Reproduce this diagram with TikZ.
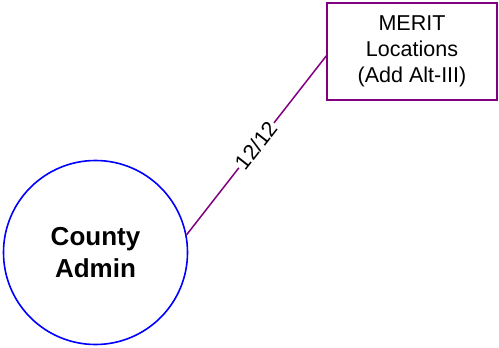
\documentclass[tikz,border=0pt]{standalone}
\usepackage{fontspec}
\setmainfont{Liberation Sans}
\usetikzlibrary{calc}
\definecolor{linkpurple}{RGB}{128,0,128}
\definecolor{circblue}{RGB}{0,0,255}
\tikzset{
  boxnode/.style={draw=linkpurple, line width=1.5pt, minimum width=170pt, minimum height=97pt, inner sep=0pt, align=center, font=\fontsize{21.5}{26}\selectfont},
  circnode/.style={draw=circblue, line width=1.6pt, circle, minimum size=184pt, inner sep=0pt, align=center, font=\fontsize{26}{32}\selectfont\bfseries},
  linkline/.style={draw=linkpurple, line width=1.5pt},
  linklabel/.style={fill=white, inner sep=1.5pt, font=\fontsize{21.5}{26}\selectfont}
}
\begin{document}
\begin{tikzpicture}[x=1pt,y=1pt]
\useasboundingbox (0,0) rectangle (499,-348);
\node[boxnode] (merit) at (412,-51.5) {MERIT\\Locations\\(Add Alt-III)};
\node[circnode] (county) at (95.5,-252.5) {County\\Admin};
\coordinate (lend) at ($(merit.north west)!0.545!(merit.south west)$);
\path[linkline] (county.11.4) -- node[linklabel, midway, sloped] {12/12} (lend);
\end{tikzpicture}
\end{document}
